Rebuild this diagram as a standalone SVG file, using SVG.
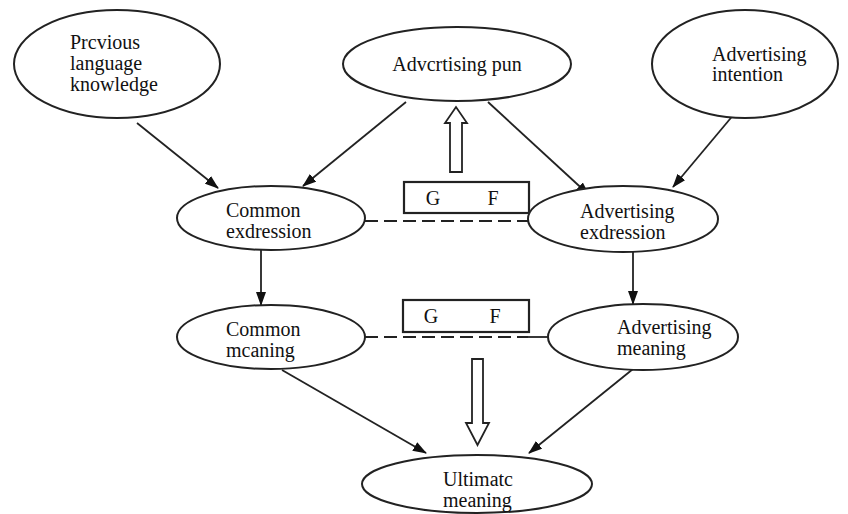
<svg xmlns="http://www.w3.org/2000/svg" width="848" height="514" viewBox="0 0 848 514">
<style>
.n ellipse{fill:#fff;stroke:#222;stroke-width:2}
text{font-family:"Liberation Serif","Times New Roman",serif;font-size:20px;fill:#111}
.c line{stroke:#222;stroke-width:1.8}
.a{marker-end:url(#ah)}
.d{stroke-dasharray:13 6}
.box{fill:#fff;stroke:#222;stroke-width:2.2}
.hol{fill:#fff;stroke:#222;stroke-width:1.8}
</style>
<defs>
<marker id="ah" markerWidth="14" markerHeight="10" refX="13" refY="5" orient="auto" markerUnits="userSpaceOnUse">
<path d="M0,0 L14,5 L0,10 Z" fill="#111"/>
</marker>
</defs>
<g id="connectors" class="c">
<line class="a" x1="137" y1="123" x2="218" y2="188"/>
<line class="a" x1="406" y1="102" x2="303" y2="186"/>
<line class="a" x1="488" y1="102" x2="589" y2="195"/>
<line class="a" x1="735" y1="113" x2="673" y2="187"/>
<line class="a" x1="261" y1="250" x2="261" y2="305"/>
<line class="a" x1="633" y1="252" x2="633" y2="304"/>
<line class="a" x1="282" y1="370" x2="426" y2="453"/>
<line class="a" x1="633" y1="369" x2="529" y2="453"/>
<line class="d" x1="365" y1="221" x2="528" y2="221"/>
<line class="d" x1="365" y1="337" x2="528" y2="337"/>
<line x1="528" y1="337" x2="548" y2="337"/>
<polygon class="hol" points="450,172 462,172 462,123 467,123 456,107 445,123 450,123"/>
<polygon class="hol" points="472,359 483,359 483,423 489,423 477.5,445 466,423 472,423"/>
</g>
<g id="n1" class="n">
<ellipse cx="117" cy="64" rx="103" ry="54"/>
<text x="70" y="49">Prcvious</text>
<text x="70" y="70">language</text>
<text x="70" y="91">knowledge</text>
</g>
<g id="n2" class="n">
<ellipse cx="457" cy="64" rx="114" ry="37"/>
<text x="457" y="71" text-anchor="middle">Advcrtising pun</text>
</g>
<g id="n3" class="n">
<ellipse cx="745" cy="64" rx="93" ry="54"/>
<text x="712" y="61">Advertising</text>
<text x="712" y="81">intention</text>
</g>
<g id="n4" class="n">
<ellipse cx="271" cy="218" rx="94" ry="32"/>
<text x="226" y="217">Common</text>
<text x="226" y="238">exdression</text>
</g>
<g id="n5" class="n">
<ellipse cx="623" cy="219" rx="95" ry="33"/>
<text x="580" y="218">Advertising</text>
<text x="580" y="239">exdression</text>
</g>
<g id="n6" class="n">
<ellipse cx="271" cy="337" rx="94" ry="32"/>
<text x="226" y="336">Common</text>
<text x="226" y="357">mcaning</text>
</g>
<g id="n7" class="n">
<ellipse cx="643" cy="337" rx="95" ry="33"/>
<text x="617" y="334">Advertising</text>
<text x="617" y="355">meaning</text>
</g>
<g id="n8" class="n">
<ellipse cx="477" cy="484" rx="115" ry="29"/>
<text x="443" y="486">Ultimatc</text>
<text x="443" y="507">meaning</text>
</g>
<g id="gf1">
<rect class="box" x="404" y="182" width="125" height="31"/>
<text x="433" y="205" text-anchor="middle">G</text>
<text x="493" y="205" text-anchor="middle">F</text>
</g>
<g id="gf2">
<rect class="box" x="403" y="300" width="126" height="32"/>
<text x="431" y="323" text-anchor="middle">G</text>
<text x="495" y="323" text-anchor="middle">F</text>
</g>
</svg>
